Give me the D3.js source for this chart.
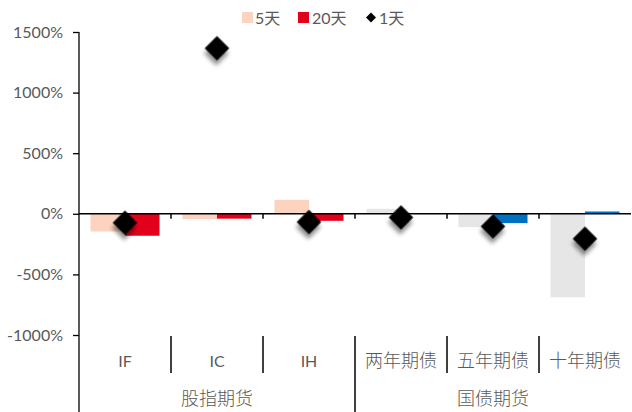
<!DOCTYPE html>
<html>
<head>
<meta charset="utf-8">
<script src="https://cdn.jsdelivr.net/npm/d3@7"></script>
<style>
  body { margin: 0; background: #fff; }
  svg { display: block; font-family: Lato, "Noto Sans CJK SC", sans-serif; }
</style>
</head>
<body>
<div id="chart"></div>
<script>
const categories = ["IF", "IC", "IH", "两年期债", "五年期债", "十年期债"];
const groups = [
  { name: "股指期货", from: 0, to: 2 },
  { name: "国债期货", from: 3, to: 5 },
];
const series = ["5天", "20天"];
const fiveDay = [-146, -44, 115, 41, -110, -689];
const twentyDay = [-181, -40, -58, 2, -77, 19];
const oneDay = [-74, 1366, -68, -30, -104, -206];
const yTicks = [-1000, -500, 0, 500, 1000, 1500];

const width = 632;
const height = 412;
const marginLeft = 79;
const marginRight = 1;
const marginTop = 32;
const plotBottom = 335;
const cjk = "'Noto Sans CJK SC', sans-serif";
const isLatin = d => /^[A-Z]+$/.test(d);

// stock futures use peach/red, bond futures grey/blue
const colorFor = (s, i) => {
  const bond = i >= 3;
  if (s === "5天") return bond ? "#e7e6e6" : "#fcd3bf";
  return bond ? "#0070c0" : "#e2001a";
};

const svg = d3.select("#chart").append("svg")
  .attr("width", width)
  .attr("height", height)
  .attr("viewBox", [0, 0, width, height]);

const defs = svg.append("defs");
const shadow = defs.append("filter").attr("id", "shadow")
  .attr("x", "-50%").attr("y", "-50%").attr("width", "200%").attr("height", "200%");
shadow.append("feDropShadow")
  .attr("dx", 3).attr("dy", 4).attr("stdDeviation", 2.2)
  .attr("flood-color", "#000").attr("flood-opacity", 0.45);

const x = d3.scaleBand().domain(categories).range([marginLeft, width - marginRight]);
const x1 = d3.scaleBand().domain(series).range([0, x.bandwidth()])
  .paddingInner(0).paddingOuter(0.333);
const y = d3.scaleLinear().domain([-1000, 1500]).range([plotBottom, marginTop]);

const rows = categories.map((c, i) => ({ c, i, values: [fiveDay[i], twentyDay[i]] }));

// bars
const catG = svg.append("g").selectAll("g").data(rows).join("g")
  .attr("transform", d => `translate(${x(d.c)},0)`);
catG.selectAll("rect")
  .data(d => d.values.map((v, k) => ({ s: series[k], v, i: d.i })))
  .join("rect")
  .attr("x", d => x1(d.s))
  .attr("width", x1.bandwidth())
  .attr("y", d => y(Math.max(0, d.v)))
  .attr("height", d => Math.abs(y(d.v) - y(0)))
  .attr("fill", d => colorFor(d.s, d.i));

// y axis
const yAxisG = svg.append("g")
  .attr("transform", `translate(${marginLeft},0)`)
  .call(d3.axisLeft(y).tickValues(yTicks).tickSize(6).tickPadding(10)
    .tickFormat(d => d + "%"));
yAxisG.select(".domain").remove();
yAxisG.selectAll(".tick line").attr("stroke", "#000").attr("stroke-width", 1.3);
yAxisG.selectAll("text").attr("fill", "#595959").attr("font-size", 16)
  .attr("font-family", "Lato, sans-serif");
svg.append("line")
  .attr("x1", marginLeft).attr("x2", marginLeft)
  .attr("y1", marginTop).attr("y2", height)
  .attr("stroke", "#000").attr("stroke-width", 1.3);

// zero line with category ticks
const xAxisG = svg.append("g")
  .attr("transform", `translate(0,${y(0)})`)
  .call(d3.axisBottom(x).tickSize(0).tickFormat(""));
xAxisG.select(".domain").attr("stroke", "#000").attr("stroke-width", 1.5)
  .attr("d", `M${marginLeft},0H${width - marginRight}`);
xAxisG.selectAll(".tick").remove();
xAxisG.selectAll(".sep").data(categories.slice(1)).join("line")
  .attr("class", "sep")
  .attr("x1", d => x(d)).attr("x2", d => x(d))
  .attr("y1", 0).attr("y2", 5)
  .attr("stroke", "#000").attr("stroke-width", 1.5);

// category labels (multi-level)
const labelG = svg.append("g");
labelG.selectAll("text.cat").data(categories).join("text")
  .attr("class", "cat")
  .attr("x", d => x(d) + x.bandwidth() / 2)
  .attr("y", 367)
  .attr("text-anchor", "middle")
  .attr("fill", "#595959")
  .attr("font-size", d => isLatin(d) ? 16 : 18)
  .attr("font-weight", d => isLatin(d) ? 400 : 300)
  .attr("font-family", d => isLatin(d) ? "Lato, sans-serif" : cjk)
  .text(d => d);

labelG.selectAll("line.sep").data(categories.slice(1)).join("line")
  .attr("class", "sep")
  .attr("x1", d => x(d)).attr("x2", d => x(d))
  .attr("y1", 336)
  .attr("y2", (d, k) => groups.some(g => g.from === k + 1) ? height : 373)
  .attr("stroke", "#000").attr("stroke-width", 1.5);

labelG.selectAll("text.grp").data(groups).join("text")
  .attr("class", "grp")
  .attr("x", g => (x(categories[g.from]) + x(categories[g.to]) + x.bandwidth()) / 2)
  .attr("y", 405)
  .attr("text-anchor", "middle")
  .attr("fill", "#595959")
  .attr("font-size", 18)
  .attr("font-weight", 300)
  .attr("font-family", cjk)
  .text(g => g.name);

// 1天 diamonds
const diamond = d3.symbol().type(d3.symbolSquare).size(300);
svg.append("g").selectAll("path").data(oneDay).join("path")
  .attr("d", diamond)
  .attr("transform", (v, i) => `translate(${x(categories[i]) + x.bandwidth() / 2},${y(v)}) rotate(45)`)
  .attr("fill", "#000")
  .attr("filter", "url(#shadow)");

// legend
const legend = svg.append("g").attr("font-size", 16).attr("fill", "#595959")
  .attr("font-family", "Lato, 'Noto Sans CJK SC', sans-serif");
const legendItems = [
  { label: "5天", x: 242, tx: 255, kind: "rect", color: "#fcd3bf" },
  { label: "20天", x: 298, tx: 312, kind: "rect", color: "#e2001a" },
  { label: "1天", x: 366, tx: 379, kind: "diamond", color: "#000" },
];
legendItems.forEach(it => {
  if (it.kind === "rect") {
    legend.append("rect").attr("x", it.x).attr("y", 12).attr("width", 11).attr("height", 11)
      .attr("fill", it.color);
  } else {
    legend.append("path").attr("d", d3.symbol().type(d3.symbolSquare).size(50))
      .attr("transform", `translate(${it.x + 5},17.5) rotate(45)`).attr("fill", it.color);
  }
  legend.append("text").attr("x", it.tx).attr("y", 24).text(it.label);
});
</script>
</body>
</html>
